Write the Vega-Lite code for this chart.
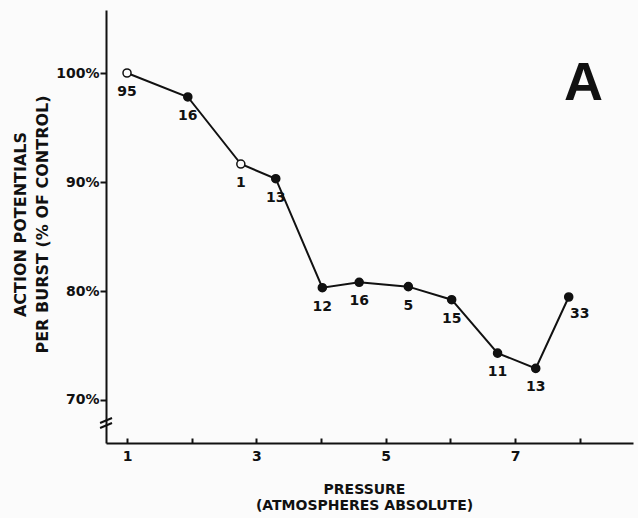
{
  "$schema": "https://vega.github.io/schema/vega-lite/v6.json",
  "width": 527,
  "height": 433,
  "autosize": "none",
  "padding": {"left": 106, "top": 10, "right": 5, "bottom": 75},
  "background": "#fbfbfb",
  "config": {
    "view": {"stroke": null},
    "font": "DejaVu Sans",
    "axis": {
      "grid": false,
      "domainColor": "#111111",
      "tickColor": "#111111",
      "labelColor": "#111111",
      "titleColor": "#111111",
      "domainWidth": 2,
      "tickWidth": 2,
      "labelFont": "DejaVu Sans",
      "labelFontWeight": "bold",
      "titleFont": "DejaVu Sans",
      "titleFontWeight": "bold"
    }
  },
  "datasets": {
    "points": [
      {"pressure": 1.00, "pct": 100.0, "n": "95", "marker": "open"},
      {"pressure": 1.94, "pct": 97.8, "n": "16", "marker": "filled"},
      {"pressure": 2.76, "pct": 91.65, "n": "1", "marker": "open"},
      {"pressure": 3.30, "pct": 90.3, "n": "13", "marker": "filled"},
      {"pressure": 4.02, "pct": 80.3, "n": "12", "marker": "filled"},
      {"pressure": 4.59, "pct": 80.8, "n": "16", "marker": "filled"},
      {"pressure": 5.35, "pct": 80.4, "n": "5", "marker": "filled"},
      {"pressure": 6.02, "pct": 79.2, "n": "15", "marker": "filled"},
      {"pressure": 6.73, "pct": 74.3, "n": "11", "marker": "filled"},
      {"pressure": 7.32, "pct": 72.9, "n": "13", "marker": "filled"},
      {"pressure": 7.83, "pct": 79.45, "n": "33", "marker": "filled"}
    ],
    "panel": [
      {"pressure": 8.06, "pct": 99.0, "tag": "A"}
    ],
    "breaks": [
      {"pressure": 0.583, "pct": 67.89, "pressure2": 0.768, "pct2": 68.35},
      {"pressure": 0.583, "pct": 67.43, "pressure2": 0.768, "pct2": 67.89}
    ]
  },
  "encoding": {
    "x": {
      "field": "pressure",
      "type": "quantitative",
      "scale": {"domain": [0.675, 8.824], "nice": false, "zero": false},
      "axis": {
        "values": [1, 2, 3, 4, 5, 6, 7, 8],
        "labelExpr": "datum.value % 2 == 1 ? datum.label : ''",
        "tickSize": -5,
        "labelPadding": 11,
        "labelFontSize": 14,
        "labelBaseline": "top",
        "title": ["PRESSURE", "(ATMOSPHERES ABSOLUTE)"],
        "titleFontSize": 14,
        "titleLineHeight": 16,
        "titleX": 258,
        "titleY": 46,
        "titleAlign": "center",
        "titleBaseline": "middle"
      }
    },
    "y": {
      "field": "pct",
      "type": "quantitative",
      "scale": {"domain": [66.055, 105.78], "nice": false, "zero": false},
      "axis": {
        "values": [70, 80, 90, 100],
        "labelExpr": "datum.value + '%'",
        "tickSize": 6,
        "labelPadding": 1,
        "labelFontSize": 14,
        "title": ["ACTION POTENTIALS", "PER BURST (% OF CONTROL)"],
        "titleFontSize": 16,
        "titleLineHeight": 22,
        "titleAngle": 270,
        "titleX": -86,
        "titleY": 214,
        "titleAlign": "center",
        "titleBaseline": "middle"
      }
    }
  },
  "layer": [
    {
      "data": {"name": "points"},
      "mark": {"type": "line", "color": "#111111", "strokeWidth": 2}
    },
    {
      "data": {"name": "points"},
      "mark": {"type": "point", "shape": "circle", "size": 65, "stroke": "#111111", "strokeWidth": 1.5, "opacity": 1},
      "encoding": {
        "fill": {
          "field": "marker",
          "type": "nominal",
          "scale": {"domain": ["open", "filled"], "range": ["#fbfbfb", "#111111"]},
          "legend": null
        }
      }
    },
    {
      "data": {"name": "points"},
      "transform": [{"filter": "datum.n != '33'"}],
      "mark": {"type": "text", "dy": 19, "fontSize": 14, "fontWeight": "bold", "color": "#111111", "align": "center", "baseline": "middle"},
      "encoding": {"text": {"field": "n"}}
    },
    {
      "data": {"name": "points"},
      "transform": [{"filter": "datum.n == '33'"}],
      "mark": {"type": "text", "dx": 11, "dy": 17, "fontSize": 14, "fontWeight": "bold", "color": "#111111", "align": "center", "baseline": "middle"},
      "encoding": {"text": {"field": "n"}}
    },
    {
      "data": {"name": "panel"},
      "mark": {"type": "text", "fontSize": 54, "font": "Liberation Sans", "fontWeight": "bold", "color": "#111111", "align": "center", "baseline": "middle"},
      "encoding": {"text": {"field": "tag"}}
    },
    {
      "data": {"name": "breaks"},
      "mark": {"type": "rule", "color": "#111111", "strokeWidth": 2},
      "encoding": {
        "x2": {"field": "pressure2"},
        "y2": {"field": "pct2"}
      }
    }
  ]
}
